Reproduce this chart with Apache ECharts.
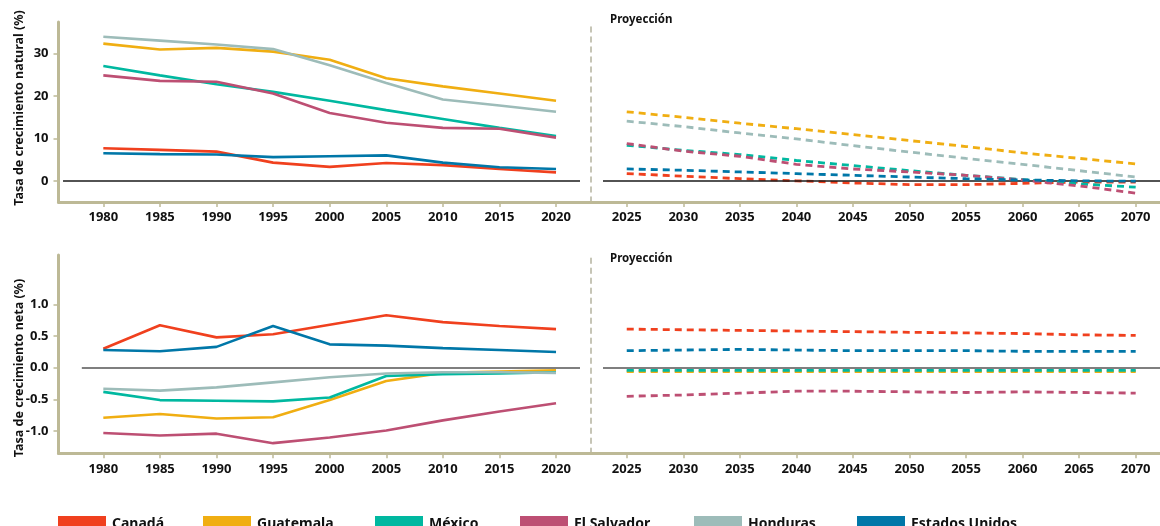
<!DOCTYPE html>
<html><head><meta charset="utf-8">
<script src="https://cdn.jsdelivr.net/npm/echarts@6/dist/echarts.min.js"></script>
<style>html,body{margin:0;padding:0;background:#fff}#c{width:1160px;height:526px}</style>
</head><body><div id="c"></div>
<script>
// ---- data ----
const histYears = [1980,1985,1990,1995,2000,2005,2010,2015,2020];
const projYears = [2025,2030,2035,2040,2045,2050,2055,2060,2065,2070];
const countries = ['Canadá','Guatemala','México','El Salvador','Honduras','Estados Unidos'];
const colors = ['#f0401e','#f0ae12','#00b8a0','#bd4f73','#9dbcb9','#0077a8'];

// Natural growth rate (top chart), historical
const natHistCanada     = [7.7,7.3,6.9,4.3,3.3,4.2,3.7,2.8,2.0];
const natHistGuatemala  = [32.4,31.0,31.4,30.5,28.6,24.2,22.3,20.6,18.9];
const natHistMexico     = [27.1,24.9,22.8,21.0,18.9,16.7,14.6,12.5,10.6];
const natHistSalvador   = [24.9,23.6,23.4,20.6,16.0,13.7,12.5,12.3,10.2];
const natHistHonduras   = [34.0,33.1,32.2,31.1,27.3,23.1,19.2,17.8,16.3];
const natHistUSA        = [6.5,6.3,6.2,5.6,5.8,6.0,4.3,3.2,2.8];
// Natural growth rate, projection
const natProjCanada     = [1.7,1.1,0.5,0.0,-0.5,-0.9,-0.9,-0.6,-0.3,-0.3];
const natProjGuatemala  = [16.3,15.0,13.6,12.3,10.9,9.5,8.1,6.6,5.3,4.0];
const natProjMexico     = [8.4,7.2,6.2,4.8,3.6,2.4,1.3,0.3,-0.7,-1.5];
const natProjSalvador   = [8.8,7.0,5.8,3.9,2.8,2.1,1.3,0.2,-1.2,-2.9];
const natProjHonduras   = [14.1,12.8,11.3,9.9,8.3,6.8,5.3,3.9,2.4,0.9];
const natProjUSA        = [2.8,2.5,2.1,1.7,1.3,0.9,0.5,0.2,0.0,-0.1];

// Net growth rate (bottom chart), historical
const netHistCanada     = [0.30,0.67,0.48,0.53,0.68,0.83,0.72,0.66,0.61];
const netHistGuatemala  = [-0.79,-0.73,-0.80,-0.78,-0.51,-0.21,-0.08,-0.06,-0.04];
const netHistMexico     = [-0.38,-0.51,-0.52,-0.53,-0.47,-0.13,-0.10,-0.09,-0.07];
const netHistSalvador   = [-1.03,-1.07,-1.04,-1.19,-1.10,-0.99,-0.83,-0.69,-0.56];
const netHistHonduras   = [-0.33,-0.36,-0.31,-0.23,-0.15,-0.09,-0.07,-0.07,-0.08];
const netHistUSA        = [0.28,0.26,0.33,0.66,0.37,0.35,0.31,0.28,0.25];
// Net growth rate, projection
const netProjCanada     = [0.61,0.60,0.59,0.58,0.57,0.56,0.55,0.54,0.52,0.51];
const netProjGuatemala  = [-0.06,-0.06,-0.06,-0.06,-0.06,-0.06,-0.06,-0.06,-0.06,-0.06];
const netProjMexico     = [-0.04,-0.04,-0.04,-0.04,-0.04,-0.04,-0.04,-0.04,-0.04,-0.04];
const netProjSalvador   = [-0.45,-0.43,-0.40,-0.37,-0.37,-0.38,-0.39,-0.38,-0.39,-0.40];
const netProjHonduras   = [-0.05,-0.05,-0.05,-0.05,-0.05,-0.05,-0.05,-0.05,-0.05,-0.05];
const netProjUSA        = [0.27,0.28,0.29,0.28,0.27,0.27,0.27,0.26,0.26,0.26];

const natTicks = [0,10,20,30];
const netTicks = [-1,-0.5,0,0.5,1];

const natHist = [natHistCanada,natHistGuatemala,natHistMexico,natHistSalvador,natHistHonduras,natHistUSA];
const natProj = [natProjCanada,natProjGuatemala,natProjMexico,natProjSalvador,natProjHonduras,natProjUSA];
const netHist = [netHistCanada,netHistGuatemala,netHistMexico,netHistSalvador,netHistHonduras,netHistUSA];
const netProj = [netProjCanada,netProjGuatemala,netProjMexico,netProjSalvador,netProjHonduras,netProjUSA];

// ---- chart ----
const AX = '#bdb996';
const FONT = '"Noto Sans", "Open Sans", sans-serif';
const lblStyle = {color:'#111', fontFamily:FONT, fontWeight:'bold', fontSize:13};

function xAx(grid, min, max, ticks){
  return {type:'value', gridIndex:grid, min:min, max:max,
    axisLine:{show:true, onZero:false, lineStyle:{color:AX, width:3}},
    axisTick:{show:true, customValues:ticks, length:5, lineStyle:{color:AX, width:1.5}},
    axisLabel:Object.assign({customValues:ticks, margin:9, formatter:v=>String(v)}, lblStyle),
    splitLine:{show:false}};
}
function yAxL(grid, min, max, ticks, fmt){
  return {type:'value', gridIndex:grid, min:min, max:max,
    axisLine:{show:true, onZero:false, lineStyle:{color:AX, width:3}},
    axisTick:{show:true, customValues:ticks, length:5, lineStyle:{color:AX, width:1.5}},
    axisLabel:Object.assign({customValues:ticks, margin:10, formatter:fmt}, lblStyle),
    splitLine:{show:false}};
}
function yAxR(grid, min, max){
  return {type:'value', gridIndex:grid, min:min, max:max,
    axisLine:{show:true, onZero:false, lineStyle:{color:'#b4b29e', width:1.5, type:[5,5]}},
    axisTick:{show:false}, axisLabel:{show:false}, splitLine:{show:false}};
}

const LMIN = 1976.04, LMAX = 2023.09, RMIN = 2021.84, RMAX = 2072.15;

const grids = [
  {left:58.5, width:532.5, top:22, height:180},
  {left:591, width:569, top:22, height:180},
  {left:58.5, width:532.5, top:255, height:198.3},
  {left:591, width:569, top:255, height:198.3}
];
const xAxes = [xAx(0,LMIN,LMAX,histYears), xAx(1,RMIN,RMAX,projYears), xAx(2,LMIN,LMAX,histYears), xAx(3,RMIN,RMAX,projYears)];
const yAxes = [
  yAxL(0,-5,37.5,natTicks,v=>String(v)),
  yAxR(1,-5,37.5),
  yAxL(2,-1.35,1.78,netTicks,v=>v.toFixed(1)),
  yAxR(3,-1.35,1.78)
];

function zeroLine(x1,x2,color){
  return {silent:true, symbol:'none', label:{show:false},
    lineStyle:{color:color, width:1.6, type:'solid'},
    data:[[{coord:[x1,0]},{coord:[x2,0]}]]};
}

const series = [];
series.push({type:'line', xAxisIndex:0, yAxisIndex:0, data:[], markLine:zeroLine(1976.44,2022.12,'#1a1a1a')});
series.push({type:'line', xAxisIndex:1, yAxisIndex:1, data:[], markLine:zeroLine(2022.9,RMAX,'#1a1a1a')});
series.push({type:'line', xAxisIndex:2, yAxisIndex:2, data:[], markLine:zeroLine(1978.1,2022.12,'#555')});
series.push({type:'line', xAxisIndex:3, yAxisIndex:3, data:[], markLine:zeroLine(2022.9,RMAX,'#555')});

// drawing order in the net projection panel: Honduras under Guatemala under México
const netProjZ = [6, 4, 5, 7, 3, 8];

countries.forEach((name,i)=>{
  const mk = (idx, years, vals, dashed, z) => ({
    name:name, type:'line', xAxisIndex:idx, yAxisIndex:idx,
    data: years.map((y,k)=>[y, vals[k]]),
    symbol:'none', smooth:false, color:colors[i],
    lineStyle:{color:colors[i], width: dashed ? 2.8 : 2.6, type: dashed ? [7,5] : 'solid'},
    z: z
  });
  series.push(mk(0, histYears, natHist[i], false, 3 + i));
  series.push(mk(1, projYears, natProj[i], true, 3 + i));
  series.push(mk(2, histYears, netHist[i], false, 3 + i));
  series.push(mk(3, projYears, netProj[i], true, netProjZ[i]));
});

const legendLeft = [58, 203, 375, 520, 694, 857];
const legends = countries.map((name,i)=>({
  left: legendLeft[i], top: 516, orient:'horizontal', padding:0,
  data:[{name:name, icon:'rect', itemStyle:{color:colors[i]}}],
  itemWidth:48, itemHeight:16, itemGap:0, selectedMode:false,
  textStyle:{color:'#111', fontFamily:FONT, fontWeight:'bold', fontSize:14, padding:[0,0,0,1]}
}));

const nameStyle = {fill:'#111', font:'bold 12.5px ' + FONT, textAlign:'center', textVerticalAlign:'middle'};
const option = {
  animation:false,
  grid:grids, xAxis:xAxes, yAxis:yAxes, series:series, legend:legends,
  graphic:[
    {type:'text', x:19, y:108, rotation:Math.PI/2, style:Object.assign({text:'Tasa de crecimiento natural (%)'}, nameStyle)},
    {type:'text', x:19, y:368, rotation:Math.PI/2, style:Object.assign({text:'Tasa de crecimiento neta (%)'}, nameStyle)},
    {type:'text', left:610, top:14, style:{text:'Proyección', fill:'#111', font:'bold 11.5px ' + FONT}},
    {type:'text', left:610, top:253, style:{text:'Proyección', fill:'#111', font:'bold 11.5px ' + FONT}}
  ]
};
const chart = echarts.init(document.getElementById('c'), null, {renderer:'canvas'});
chart.setOption(option);
</script>
</body></html>
